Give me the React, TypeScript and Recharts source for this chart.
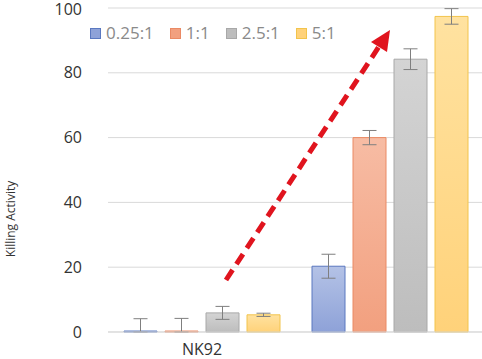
import React from "react";
import { BarChart, Bar, XAxis, YAxis, CartesianGrid, ErrorBar } from "recharts";

const categories = ["NK92", ""];
const seriesNames = ["0.25:1", "1:1", "2.5:1", "5:1"];
const values = [
  [0.3, 20.3],
  [0.3, 60],
  [5.9, 84.2],
  [5.3, 97.4],
];
const errors = [
  [[0.3, 3.8], [3.7, 3.7]],
  [[0.3, 3.9], [2.2, 2.2]],
  [[2, 2], [3.2, 3.2]],
  [[0.5, 0.5], [2.4, 2.4]],
];
const yTicks = [0, 20, 40, 60, 80, 100];

const fills = [
  { top: "#b4c2e6", bottom: "#8ea2d8", stroke: "#5a78c0" },
  { top: "#f7bca4", bottom: "#f2a07f", stroke: "#ea8a64" },
  { top: "#d4d4d4", bottom: "#bdbdbd", stroke: "#a8a8a8" },
  { top: "#ffe2a0", bottom: "#ffd27a", stroke: "#f2c44c" },
];

const data = categories.map((name, i) => {
  const row: any = { name };
  seriesNames.forEach((_, s) => {
    row[`s${s}`] = values[s][i];
    row[`e${s}`] = errors[s][i];
  });
  return row;
});

const FONT = "'Open Sans', 'Noto Sans', sans-serif";

const ChartLegend = () => (
  <div
    style={{
      position: "absolute",
      left: 90,
      top: 23,
      display: "flex",
      fontFamily: FONT,
      fontSize: 17,
      lineHeight: "20px",
      color: "#8a8a8a",
    }}
  >
    {seriesNames.map((n, i) => (
      <div key={n} style={{ display: "flex", alignItems: "center", marginRight: 16 }}>
        <span
          style={{
            width: 9,
            height: 9,
            background: fills[i].bottom,
            border: `1px solid ${fills[i].stroke}`,
            marginRight: 5,
          }}
        />
        <span>{n}</span>
      </div>
    ))}
  </div>
);

const YLabel = (props: any) => {
  const vb = props.viewBox;
  const x = 10;
  const y = vb.y + vb.height / 2 + 49;
  return (
    <text
      x={x}
      y={y}
      transform={`rotate(-90, ${x}, ${y})`}
      textAnchor="middle"
      dominantBaseline="central"
      fontSize={12}
      fill="#333"
      fontFamily={FONT}
    >
      Killing Activity
    </text>
  );
};

export default function App() {
  return (
    <div style={{ position: "absolute", left: 0, top: 0, width: 482, height: 359, background: "#fff" }}>
      <BarChart
        width={484}
        height={359}
        data={data}
        margin={{ top: 8, right: 0, left: 0, bottom: 0 }}
        barCategoryGap={16}
        barGap={8}
      >
        <defs>
          {fills.map((f, i) => (
            <linearGradient key={i} id={`g${i}`} x1="0" y1="0" x2="0" y2="1">
              <stop offset="0%" stopColor={f.top} />
              <stop offset="100%" stopColor={f.bottom} />
            </linearGradient>
          ))}
        </defs>
        <CartesianGrid vertical={false} stroke="#d9d9d9" />
        <XAxis
          dataKey="name"
          axisLine={{ stroke: "#d9d9d9" }}
          tickLine={false}
          tickMargin={6}
          height={27}
          tick={{ fontSize: 16, fill: "#333", fontFamily: FONT }}
        />
        <YAxis
          width={108}
          domain={[0, 100]}
          ticks={yTicks}
          axisLine={false}
          tickLine={false}
          tickMargin={20}
          tick={{ fontSize: 16, fill: "#333", fontFamily: FONT }}
          label={<YLabel />}
        />
        {seriesNames.map((n, i) => (
          <Bar
            key={n}
            dataKey={`s${i}`}
            name={n}
            fill={`url(#g${i})`}
            stroke={fills[i].stroke}
            strokeWidth={1}
            isAnimationActive={false}
          >
            <ErrorBar dataKey={`e${i}`} width={7} stroke="#7f7f7f" strokeWidth={1} />
          </Bar>
        ))}
      </BarChart>
      <ChartLegend />
      <svg
        width={482}
        height={359}
        style={{ position: "absolute", left: 0, top: 0, pointerEvents: "none" }}
      >
        <line x1={226} y1={280} x2={380} y2={45} stroke="#e0141e" strokeWidth={5} strokeDasharray="12 7" />
        <polygon points="390,30 371,42 387,52" fill="#e0141e" />
      </svg>
    </div>
  );
}
